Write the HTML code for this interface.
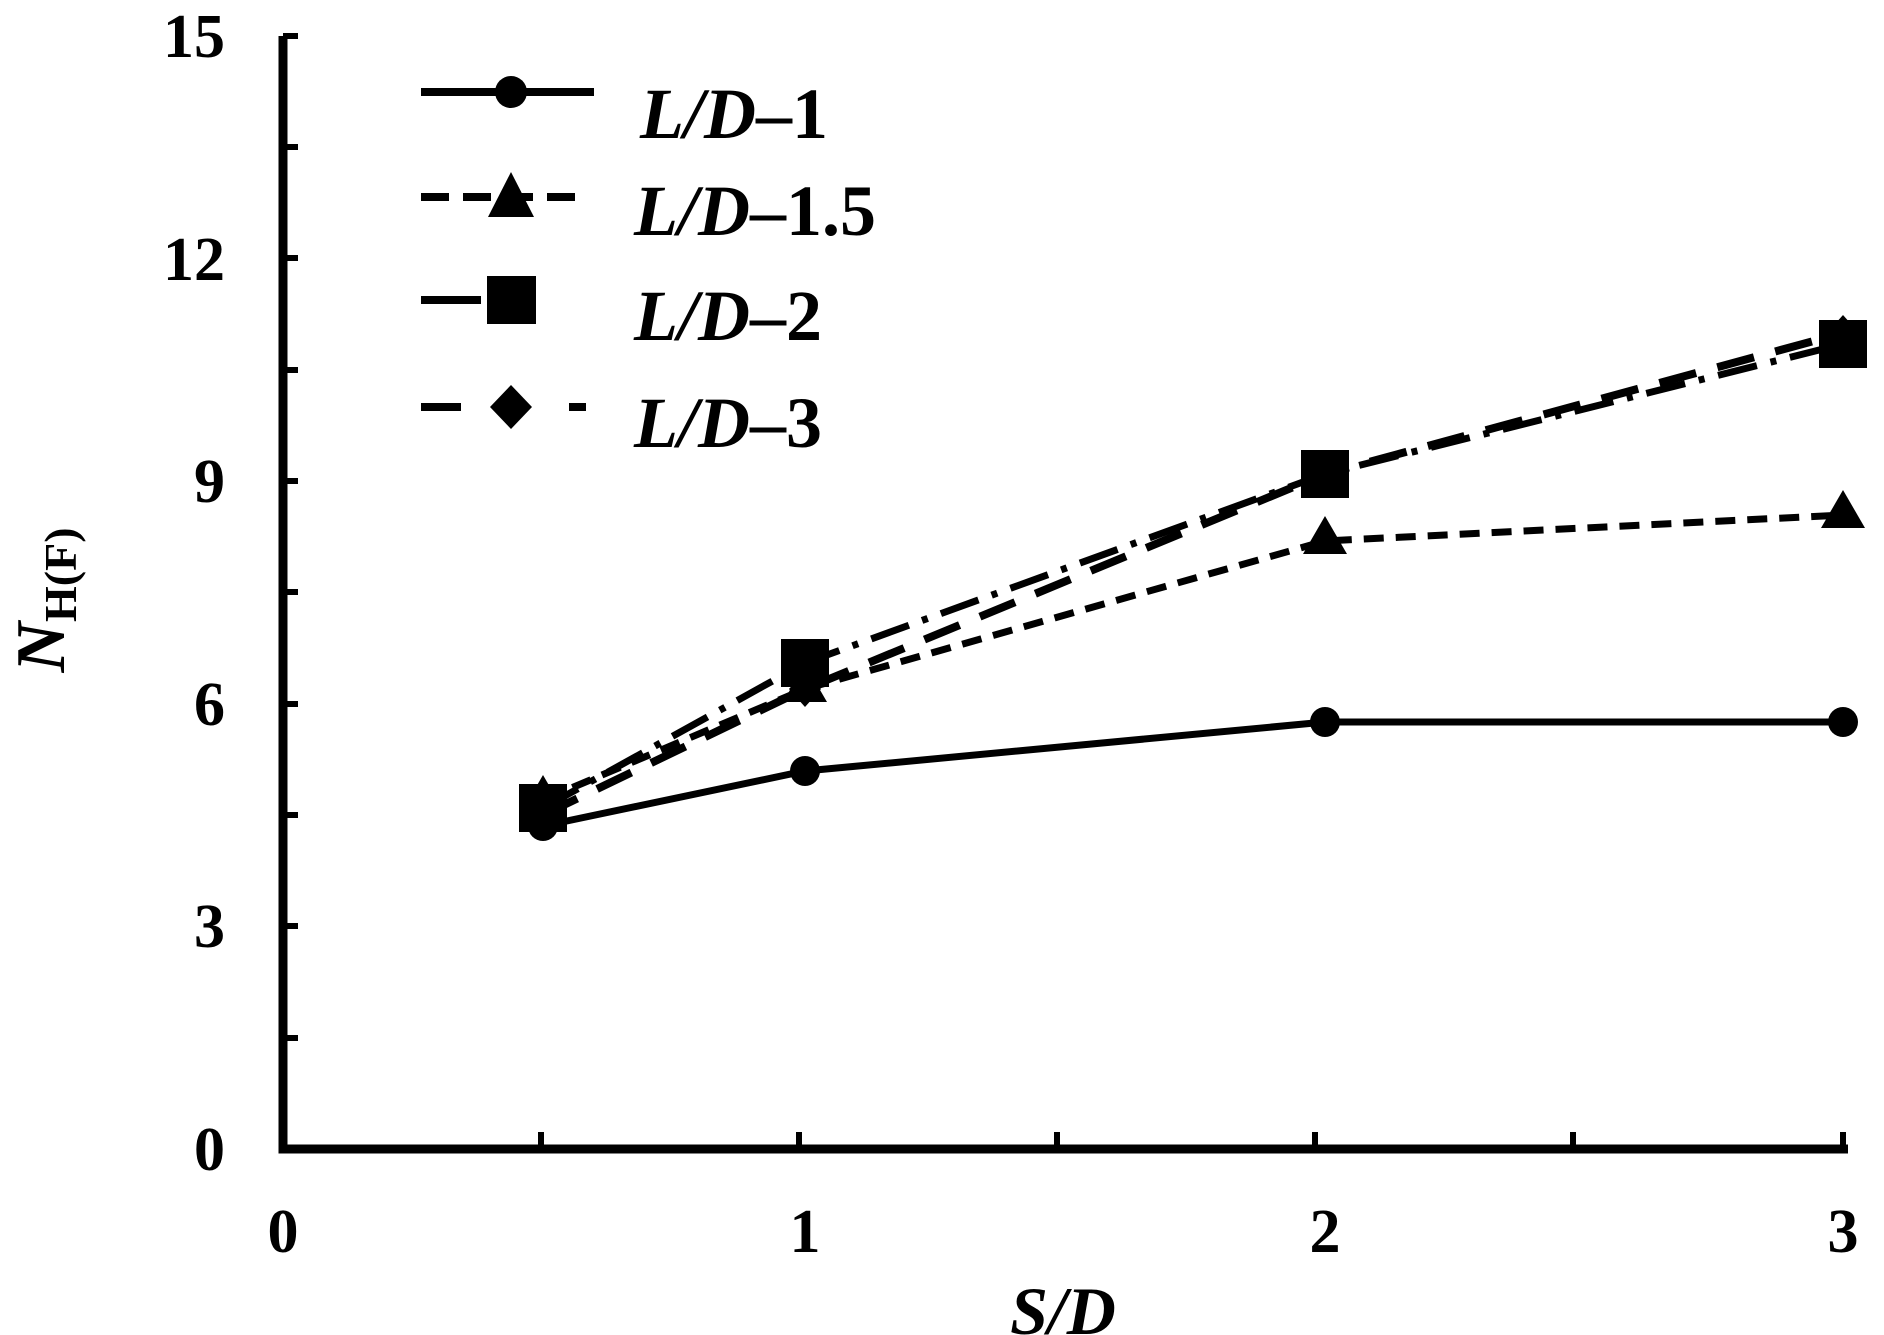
<!DOCTYPE html>
<html><head><meta charset="utf-8"><style>html,body{margin:0;padding:0;background:#fff}svg{display:block}text{font-family:"Liberation Serif","Times New Roman",serif;font-weight:bold}</style></head>
<body>
<svg width="1884" height="1335" viewBox="0 0 1884 1335" xmlns="http://www.w3.org/2000/svg">
<path d="M283,36 L283,1149 L1848,1149" fill="none" stroke="#000" stroke-width="9"/>
<g stroke="#000" stroke-width="6">
<line x1="283" y1="36" x2="298" y2="36"/><line x1="283" y1="147" x2="298" y2="147"/>
<line x1="283" y1="258" x2="298" y2="258"/><line x1="283" y1="370" x2="298" y2="370"/>
<line x1="283" y1="481" x2="298" y2="481"/><line x1="283" y1="592" x2="298" y2="592"/>
<line x1="283" y1="704" x2="298" y2="704"/><line x1="283" y1="815" x2="298" y2="815"/>
<line x1="283" y1="926" x2="298" y2="926"/><line x1="283" y1="1038" x2="298" y2="1038"/>
<line x1="541" y1="1149" x2="541" y2="1132"/><line x1="799" y1="1149" x2="799" y2="1132"/>
<line x1="1057" y1="1149" x2="1057" y2="1132"/><line x1="1315" y1="1149" x2="1315" y2="1132"/>
<line x1="1573" y1="1149" x2="1573" y2="1132"/><line x1="1843" y1="1149" x2="1843" y2="1132"/>
</g>
<g font-size="62" text-anchor="end">
<text x="225" y="1170">0</text><text x="225" y="947">3</text><text x="225" y="725">6</text>
<text x="225" y="502">9</text><text x="225" y="280">12</text><text x="225" y="57">15</text>
</g>
<g font-size="62" text-anchor="middle">
<text x="283" y="1252">0</text><text x="805" y="1252">1</text><text x="1325" y="1252">2</text><text x="1843" y="1252">3</text>
</g>
<text x="1063" y="1334" font-size="68" font-style="italic" text-anchor="middle">S/D</text>
<text transform="translate(64,600) rotate(-90)" font-size="70" text-anchor="middle"><tspan font-style="italic">N</tspan><tspan font-size="46" dy="12">H(F)</tspan></text>
<polyline points="543,826 805,771 1325,722 1843,722" fill="none" stroke="#000" stroke-width="7"/>
<g fill="#000"><circle cx="543" cy="826" r="15"/><circle cx="805" cy="771" r="15"/><circle cx="1325" cy="722" r="15"/><circle cx="1843" cy="722" r="15"/></g>
<polyline points="543,800 805,689 1325,541 1843,515" fill="none" stroke="#000" stroke-width="7" stroke-dasharray="20,12"/>
<g fill="#000"><path d="M543,775 l22,38 h-44z"/><path d="M805,664 l22,38 h-44z"/><path d="M1325,516 l22,38 h-44z"/><path d="M1843,490 l22,38 h-44z"/></g>
<polyline points="543,815 805,689 1325,474 1843,333" fill="none" stroke="#000" stroke-width="8" stroke-dasharray="38,22"/>
<polyline points="543,808 805,663 1325,474 1843,344" fill="none" stroke="#000" stroke-width="7" stroke-dasharray="40,14,6,14"/>
<g fill="#000"><rect x="519" y="784" width="48" height="48"/><rect x="781" y="639" width="48" height="48"/><rect x="1301" y="450" width="48" height="48"/><rect x="1819" y="320" width="48" height="48"/></g>
<g fill="#000"><path d="M543,797 l16,18 l-16,18 l-16,-18z"/><path d="M805,671 l16,18 l-16,18 l-16,-18z"/><path d="M1843,315 l16,18 l-16,18 l-16,-18z"/></g>
<line x1="421" y1="92" x2="594" y2="92" stroke="#000" stroke-width="8"/><circle cx="511" cy="92" r="16"/>
<line x1="421" y1="197" x2="576" y2="197" stroke="#000" stroke-width="8" stroke-dasharray="28,14"/><path d="M511,172 l23,45 h-46z"/>
<line x1="421" y1="300" x2="585" y2="300" stroke="#000" stroke-width="8" stroke-dasharray="60,6,6,34,6,100"/><rect x="487" y="276" width="49" height="48"/>
<line x1="421" y1="407" x2="586" y2="407" stroke="#000" stroke-width="8" stroke-dasharray="40,108,18"/><path d="M511,385 l21,22 l-21,22 l-21,-22z"/>
<g font-size="72">
<text x="640" y="138"><tspan font-style="italic">L/D</tspan>–1</text><text x="634" y="235"><tspan font-style="italic">L/D</tspan>–1.5</text><text x="634" y="340"><tspan font-style="italic">L/D</tspan>–2</text><text x="634" y="447"><tspan font-style="italic">L/D</tspan>–3</text>
</g>
</svg>
</body></html>
